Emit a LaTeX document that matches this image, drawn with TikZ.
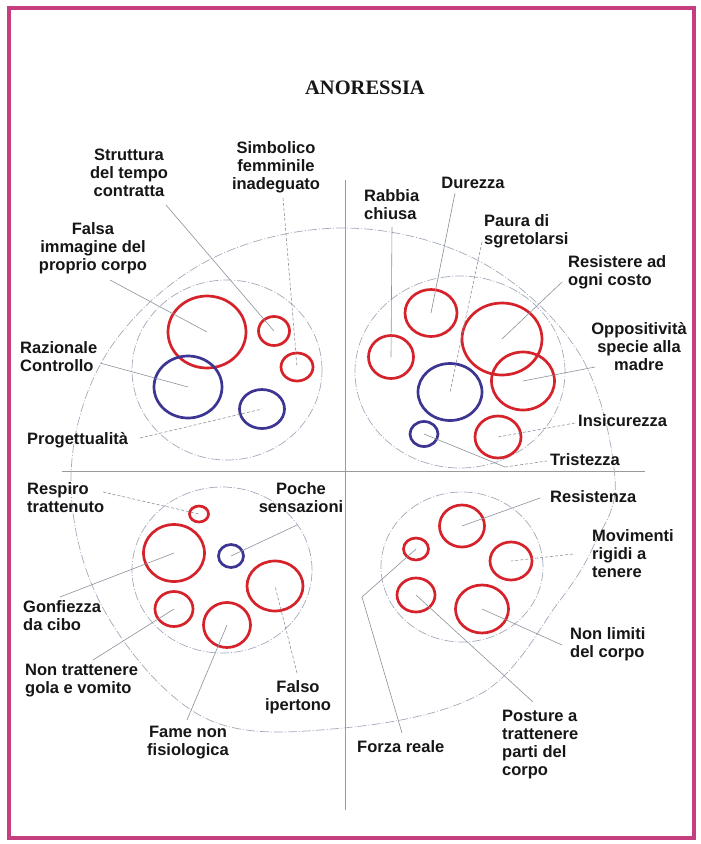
\documentclass[tikz,border=0pt]{standalone}
\usepackage{fontspec}
\usetikzlibrary{shapes.geometric}
\newfontfamily\labfam{Liberation Sans}
\newfontfamily\titfam{Liberation Serif}
\definecolor{framec}{HTML}{C53F7F}
\definecolor{cred}{HTML}{D6222A}
\definecolor{cblue}{HTML}{3C3592}
\definecolor{leadc}{HTML}{8C919C}
\definecolor{ringc}{HTML}{A3AABB}
\definecolor{axisc}{HTML}{9A9A9A}
\definecolor{txt}{HTML}{161616}
\begin{document}
\begin{tikzpicture}[x=1pt,y=-1pt,
  lab/.style={font={\fontsize{16.5}{18}\labfam\bfseries}, text=txt, inner sep=0pt},
  cr/.style n args={2}{ellipse, inner sep=0pt, minimum width=#1pt, minimum height=#2pt},
  redc/.style={draw=cred, line width=2.7pt},
  bluec/.style={draw=cblue, line width=2.7pt},
  ringst/.style={draw=ringc, line width=0.7pt, dash pattern=on 9pt off 2pt on 1pt off 2pt},
  leader/.style={draw=leadc, line width=0.6pt},
  leaderd/.style={leader, dash pattern=on 3pt off 2pt},
  axisline/.style={draw=axisc, line width=0.9pt}]
\useasboundingbox (0,0) rectangle (701,844);
\fill[white] (0,0) rectangle (701,844);
\draw[framec, line width=3.5pt] (9,8) rectangle (694,838);

\node[font={\fontsize{20.5}{22}\titfam\bfseries}, text=txt] (title) at (365,88) {ANORESSIA};

% axes
\coordinate (hL) at (62,471); \coordinate (hR) at (645,471);
\coordinate (vT) at (345,180); \coordinate (vB) at (345,810);
\draw[axisline] (hL) -- (hR);
\draw[axisline] (vT) -- (vB);

% big ring
\draw[ringst] plot[smooth cycle, tension=0.6] coordinates {(615,478) (594,545) (558,603) (482,693) (343,728) (205,718) (104,610) (71,478) (107,353) (207,261) (343,228) (479,261) (579,353)};

% quadrant rings
\node[ringst, cr={190}{180}] (q1) at (227,370) {};
\node[ringst, cr={210}{192}] (q2) at (460,372) {};
\node[ringst, cr={180}{166}] (q3) at (222,570) {};
\node[ringst, cr={162}{150}] (q4) at (462,567) {};

% circles Q1
\node[redc, cr={78}{72}] (c1) at (207,332) {};
\node[redc, cr={31}{29}] (c2) at (274,331) {};
\node[redc, cr={32}{28}] (c3) at (297,367) {};
\node[bluec, cr={68}{62}] (c4) at (188,387) {};
\node[bluec, cr={45}{39}] (c5) at (262,409) {};
% circles Q2
\node[redc, cr={52}{47}] (d1) at (431,313) {};
\node[redc, cr={45}{43}] (d2) at (391,357) {};
\node[redc, cr={80}{72}] (d3) at (502,339) {};
\node[redc, cr={63}{58}] (d4) at (523,381) {};
\node[bluec, cr={64}{57}] (d5) at (450,392) {};
\node[bluec, cr={28}{25}] (d6) at (424,434) {};
\node[redc, cr={46}{42}] (d7) at (498,437) {};
% circles Q3
\node[redc, cr={19}{16}] (e1) at (199,514) {};
\node[redc, cr={61}{57}] (e2) at (174,553) {};
\node[bluec, cr={25}{23}] (e3) at (231,556) {};
\node[redc, cr={56}{50}] (e4) at (275,586) {};
\node[redc, cr={38}{35}] (e5) at (174,609) {};
\node[redc, cr={47}{45}] (e6) at (227,625) {};
% circles Q4
\node[redc, cr={45}{42}] (f1) at (462,526) {};
\node[redc, cr={25}{22}] (f2) at (416,549) {};
\node[redc, cr={42}{38}] (f3) at (511,561) {};
\node[redc, cr={38}{34}] (f4) at (416,595) {};
\node[redc, cr={53}{48}] (f5) at (482,609) {};

% labels
\node[lab, align=center] (tStruttura) at (129,173) {Struttura\\del tempo\\contratta};
\node[lab, align=center] (tSimbolico) at (276,167) {Simbolico\\femminile\\inadeguato};
\node[lab, align=center] (tFalsa) at (93,248) {Falsa\\immagine del\\proprio corpo};
\node[lab, align=left, anchor=west] (tRazionale) at (20,357) {Razionale\\Controllo};
\node[lab, anchor=west] (tProget) at (27,440) {Progettualità};
\node[lab, align=left, anchor=west] (tRabbia) at (364,205) {Rabbia\\chiusa};
\node[lab] (tDurezza) at (473,183) {Durezza};
\node[lab, align=left, anchor=west] (tPaura) at (484,231) {Paura di\\sgretolarsi};
\node[lab, align=left, anchor=west] (tResistere) at (568,272) {Resistere ad\\ogni costo};
\node[lab, align=center] (tOppos) at (639,347) {Oppositività\\specie alla\\madre};
\node[lab, anchor=west] (tInsic) at (578,421) {Insicurezza};
\node[lab, anchor=west] (tTrist) at (550,460) {Tristezza};
\node[lab, align=left, anchor=west] (tRespiro) at (27,498) {Respiro\\trattenuto};
\node[lab, align=center] (tPoche) at (301,498) {Poche\\sensazioni};
\node[lab, align=left, anchor=west] (tGonf) at (23,616) {Gonfiezza\\da cibo};
\node[lab, align=left, anchor=west] (tNonTr) at (25,681) {Non trattenere\\gola e vomito};
\node[lab, align=center] (tFalso) at (298,697) {Falso\\ipertono};
\node[lab, align=center] (tFame) at (188,743) {Fame non\\fisiologica};
\node[lab, anchor=west] (tResist) at (550,497) {Resistenza};
\node[lab, align=left, anchor=west] (tMovim) at (592,554) {Movimenti\\rigidi a\\tenere};
\node[lab, align=left, anchor=west] (tNonLim) at (570,644) {Non limiti\\del corpo};
\node[lab, align=left, anchor=west] (tPost) at (502,745) {Posture a\\trattenere\\parti del\\corpo};
\node[lab, anchor=west] (tForza) at (357,747) {Forza reale};

% leader start points
\coordinate (s1) at (166,205);
\coordinate (s2) at (283,198);
\coordinate (s3) at (110,280);
\coordinate (s4) at (100,363);
\coordinate (s5) at (140,438);
\coordinate (s6) at (392,227);
\coordinate (s7) at (455,193);
\coordinate (s8) at (482,242);
\coordinate (s9) at (562,282);
\coordinate (s10) at (595,367);
\coordinate (s11) at (575,423);
\coordinate (s12) at (547,461);
\coordinate (k12) at (505,467);
\coordinate (s13) at (103,492);
\coordinate (s14) at (297,525);
\coordinate (s15) at (60,597);
\coordinate (s16) at (93,660);
\coordinate (s17) at (297,673);
\coordinate (s18) at (187,720);
\coordinate (s19) at (540,498);
\coordinate (s20) at (573,554);
\coordinate (s21) at (562,645);
\coordinate (s22) at (533,702);
\coordinate (s23) at (402,733);
\coordinate (k23) at (362,597);

\draw[leader] (s1) -- (c2.center);
\draw[leaderd] (s2) -- (c3.center);
\draw[leader] (s3) -- (c1.center);
\draw[leader] (s4) -- (c4.center);
\draw[leaderd] (s5) -- (c5.center);
\draw[leader] (s6) -- (d2.center);
\draw[leader] (s7) -- (d1.center);
\draw[leaderd] (s8) -- (d5.center);
\draw[leader] (s9) -- (d3.center);
\draw[leader] (s10) -- (d4.center);
\draw[leaderd] (s11) -- (d7.center);
\draw[leader] (d6.center) -- (k12);
\draw[leaderd] (k12) -- (s12);
\draw[leaderd] (s13) -- (e1.center);
\draw[leader] (s14) -- (e3.center);
\draw[leader] (s15) -- (e2.center);
\draw[leader] (s16) -- (e5.center);
\draw[leaderd] (s17) -- (e4.center);
\draw[leader] (s18) -- (e6.center);
\draw[leader] (s19) -- (f1.center);
\draw[leaderd] (s20) -- (f3.center);
\draw[leader] (s21) -- (f5.center);
\draw[leader] (s22) -- (f4.center);
\draw[leader] (s23) -- (k23) -- (f2.center);
\end{tikzpicture}
\end{document}
